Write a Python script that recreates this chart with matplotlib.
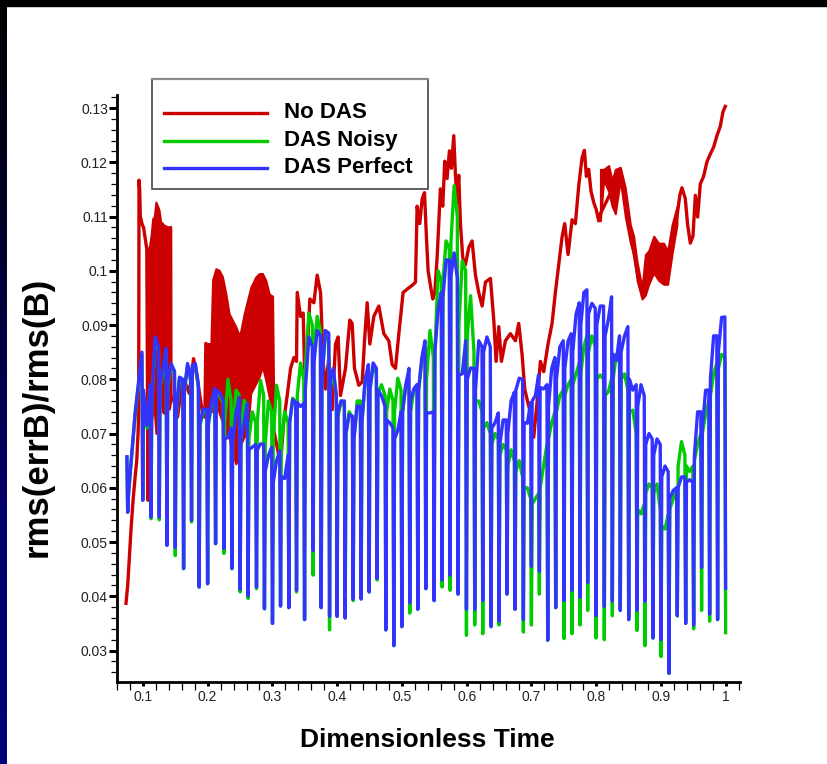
import numpy as np
import matplotlib
matplotlib.use('Agg')
import matplotlib.pyplot as plt
from matplotlib.ticker import MultipleLocator, FuncFormatter
from matplotlib.patches import Rectangle
from matplotlib.lines import Line2D
from matplotlib.colors import LinearSegmentedColormap

plt.rcParams['font.family'] = ['Liberation Sans', 'DejaVu Sans']

W, H = 828, 764

# ---------------- data ----------------
# times of the periodic dips shared by the two DAS runs
dip_t = [0.0765, 0.0997, 0.1125, 0.1253, 0.1371, 0.1500, 0.1628, 0.1751, 0.1869, 0.1999,
         0.2122, 0.2251, 0.2374, 0.2502, 0.2625, 0.2754, 0.2877, 0.3001, 0.3125, 0.3254,
         0.3372, 0.3496, 0.3629, 0.3753, 0.3882, 0.3999, 0.4123, 0.4247, 0.4370, 0.4494,
         0.4617, 0.4751, 0.4874, 0.4998, 0.5121, 0.5245, 0.5368, 0.5497, 0.5620, 0.5744,
         0.5867, 0.5996, 0.6124, 0.6248, 0.6376, 0.6500, 0.6623, 0.6747, 0.6875, 0.6999,
         0.7122, 0.7251, 0.7374, 0.7503, 0.7626, 0.7750, 0.7868, 0.7997, 0.8125, 0.8249,
         0.8372, 0.8501, 0.8629, 0.8753, 0.8876, 0.9000, 0.9123, 0.9252, 0.9381, 0.9504,
         0.9627, 0.9751, 0.9874, 0.9998]

# DAS Perfect: value before each dip, dip bottom, value after dip, value mid-way to next dip
perfect_pre = [0.0657, 0.0850, 0.0790, 0.0860, 0.0857, 0.0815, 0.0800, 0.0800, 0.0790, 0.0745,
               0.0783, 0.0760, 0.0710, 0.0767, 0.0755, 0.0680, 0.0680, 0.0675, 0.0668, 0.0660,
               0.0757, 0.0755, 0.0860, 0.0880, 0.0885, 0.0770, 0.0760, 0.0732, 0.0750, 0.0827,
               0.0820, 0.0750, 0.0710, 0.0740, 0.0820, 0.0790, 0.0871, 0.0740, 0.0960, 0.1020,
               0.0986, 0.0871, 0.0820, 0.0860, 0.0860, 0.0738, 0.0725, 0.0776, 0.0800, 0.0757,
               0.0808, 0.0790, 0.0840, 0.0871, 0.0884, 0.0941, 0.0965, 0.0931, 0.0935, 0.0952,
               0.0880, 0.0897, 0.0790, 0.0770, 0.0690, 0.0680, 0.0630, 0.0600, 0.0620, 0.0610,
               0.0740, 0.0780, 0.0880, 0.0915]
perfect_lo = [0.0555, 0.0577, 0.0546, 0.0546, 0.0494, 0.0490, 0.0451, 0.0540, 0.0417, 0.0423,
              0.0497, 0.0488, 0.0451, 0.0413, 0.0401, 0.0417, 0.0377, 0.0350, 0.0382, 0.0379,
              0.0411, 0.0357, 0.0484, 0.0379, 0.0363, 0.0363, 0.0360, 0.0395, 0.0395, 0.0408,
              0.0433, 0.0338, 0.0309, 0.0344, 0.0388, 0.0376, 0.0414, 0.0392, 0.0430, 0.0439,
              0.0404, 0.0376, 0.0376, 0.0392, 0.0344, 0.0354, 0.0404, 0.0376, 0.0357, 0.0455,
              0.0446, 0.0319, 0.0379, 0.0392, 0.0411, 0.0398, 0.0425, 0.0364, 0.0381, 0.0391,
              0.0374, 0.0357, 0.0374, 0.0391, 0.0323, 0.0320, 0.0258, 0.0364, 0.0350, 0.0347,
              0.0453, 0.0367, 0.0357, 0.0415]
perfect_post = [0.0590, 0.0780, 0.0760, 0.0790, 0.0790, 0.0730, 0.0780, 0.0825, 0.0720, 0.0720,
                0.0780, 0.0690, 0.0680, 0.0690, 0.0670, 0.0670, 0.0630, 0.0610, 0.0620, 0.0720,
                0.0757, 0.0780, 0.0830, 0.0800, 0.0800, 0.0740, 0.0700, 0.0690, 0.0720, 0.0780,
                0.0780, 0.0725, 0.0690, 0.0740, 0.0760, 0.0780, 0.0738, 0.0850, 0.0950, 0.0990,
                0.0808, 0.0800, 0.0780, 0.0850, 0.0710, 0.0680, 0.0700, 0.0780, 0.0720, 0.0760,
                0.0785, 0.0750, 0.0800, 0.0820, 0.0850, 0.0900, 0.0920, 0.0900, 0.0880, 0.0846,
                0.0850, 0.0800, 0.0750, 0.0680, 0.0660, 0.0620, 0.0580, 0.0600, 0.0610, 0.0660,
                0.0710, 0.0800, 0.0850]
perfect_mid = [0.0740, 0.0715, 0.0878, 0.0820, 0.0829, 0.0804, 0.0829, 0.0829, 0.0745, 0.0760,
               0.0775, 0.0693, 0.0740, 0.0720, 0.0675, 0.0681, 0.0660, 0.0650, 0.0617, 0.0763,
               0.0750, 0.0878, 0.0890, 0.0890, 0.0820, 0.0760, 0.0735, 0.0751, 0.0800, 0.0830,
               0.0770, 0.0720, 0.0706, 0.0790, 0.0782, 0.0840, 0.0738, 0.0930, 0.1020, 0.1033,
               0.0810, 0.0821, 0.0871, 0.0878, 0.0720, 0.0725, 0.0760, 0.0802, 0.0719, 0.0770,
               0.0782, 0.0820, 0.0860, 0.0870, 0.0920, 0.0960, 0.0940, 0.0935, 0.0910, 0.0835,
               0.0880, 0.0780, 0.0790, 0.0700, 0.0690, 0.0640, 0.0595, 0.0620, 0.0615, 0.0740,
               0.0780, 0.0880, 0.0914]

# DAS Noisy
noisy_pre = [0.0657, 0.0845, 0.0785, 0.0855, 0.0850, 0.0810, 0.0795, 0.0795, 0.0785, 0.0740,
             0.0778, 0.0755, 0.0760, 0.0770, 0.0750, 0.0720, 0.0770, 0.0740, 0.0760, 0.0720,
             0.0757, 0.0800, 0.0900, 0.0890, 0.0870, 0.0770, 0.0750, 0.0730, 0.0760, 0.0820,
             0.0810, 0.0770, 0.0760, 0.0780, 0.0780, 0.0790, 0.0860, 0.0840, 0.0980, 0.1040,
             0.1100, 0.1000, 0.0850, 0.0740, 0.0700, 0.0690, 0.0670, 0.0650, 0.0620, 0.0580,
             0.0590, 0.0680, 0.0740, 0.0780, 0.0800, 0.0830, 0.0880, 0.0860, 0.0800, 0.0800,
             0.0830, 0.0780, 0.0700, 0.0570, 0.0600, 0.0560, 0.0550, 0.0600, 0.0660, 0.0640,
             0.0700, 0.0760, 0.0830, 0.0840]
noisy_lo = [0.0555, 0.0577, 0.0543, 0.0541, 0.0494, 0.0475, 0.0451, 0.0537, 0.0417, 0.0423,
            0.0497, 0.0479, 0.0451, 0.0408, 0.0396, 0.0414, 0.0377, 0.0350, 0.0382, 0.0379,
            0.0408, 0.0357, 0.0439, 0.0379, 0.0338, 0.0363, 0.0360, 0.0392, 0.0395, 0.0408,
            0.0430, 0.0338, 0.0309, 0.0344, 0.0369, 0.0376, 0.0414, 0.0392, 0.0417, 0.0411,
            0.0404, 0.0328, 0.0347, 0.0331, 0.0344, 0.0347, 0.0404, 0.0376, 0.0334, 0.0347,
            0.0404, 0.0319, 0.0379, 0.0322, 0.0331, 0.0347, 0.0374, 0.0323, 0.0320, 0.0364,
            0.0374, 0.0357, 0.0337, 0.0309, 0.0323, 0.0289, 0.0258, 0.0364, 0.0350, 0.0340,
            0.0374, 0.0354, 0.0357, 0.0333]
noisy_post = [0.0585, 0.0775, 0.0755, 0.0785, 0.0785, 0.0725, 0.0775, 0.0820, 0.0715, 0.0715,
              0.0775, 0.0720, 0.0700, 0.0700, 0.0690, 0.0720, 0.0680, 0.0690, 0.0680, 0.0720,
              0.0770, 0.0820, 0.0850, 0.0800, 0.0790, 0.0730, 0.0700, 0.0690, 0.0720, 0.0780,
              0.0775, 0.0740, 0.0740, 0.0740, 0.0740, 0.0780, 0.0800, 0.0850, 0.0980, 0.1050,
              0.0900, 0.0880, 0.0760, 0.0710, 0.0680, 0.0660, 0.0640, 0.0630, 0.0600, 0.0570,
              0.0600, 0.0690, 0.0740, 0.0770, 0.0790, 0.0810, 0.0850, 0.0800, 0.0770, 0.0800,
              0.0800, 0.0740, 0.0560, 0.0590, 0.0590, 0.0530, 0.0560, 0.0640, 0.0640, 0.0650,
              0.0700, 0.0770, 0.0820]
noisy_mid = [0.0735, 0.0710, 0.0870, 0.0815, 0.0825, 0.0800, 0.0825, 0.0825, 0.0740, 0.0755,
             0.0770, 0.0800, 0.0780, 0.0761, 0.0740, 0.0798, 0.0760, 0.0789, 0.0740, 0.0765,
             0.0830, 0.0922, 0.0916, 0.0880, 0.0800, 0.0760, 0.0740, 0.0760, 0.0800, 0.0825,
             0.0790, 0.0782, 0.0802, 0.0790, 0.0780, 0.0833, 0.0890, 0.1000, 0.1055, 0.1157,
             0.1018, 0.0954, 0.0760, 0.0720, 0.0700, 0.0680, 0.0670, 0.0650, 0.0600, 0.0580,
             0.0640, 0.0720, 0.0770, 0.0790, 0.0810, 0.0860, 0.0880, 0.0808, 0.0777, 0.0846,
             0.0810, 0.0743, 0.0552, 0.0607, 0.0607, 0.0524, 0.0580, 0.0685, 0.0630, 0.0680,
             0.0736, 0.0810, 0.0846]

# No DAS: main trace
nodas_t = [0.0739, 0.0765, 0.0790, 0.0820, 0.0850, 0.0880, 0.0905, 0.0925, 0.0935, 0.0940,
           0.0950, 0.0960, 0.0990, 0.1010, 0.1035, 0.1060, 0.1080, 0.1090, 0.1250, 0.1425,
           0.1432, 0.1480, 0.1535, 0.1600, 0.1638, 0.1715, 0.1782, 0.1844, 0.1921, 0.1957,
           0.1972, 0.2500, 0.3000, 0.3022, 0.3074, 0.3125, 0.3177, 0.3228, 0.3280, 0.3331,
           0.3372, 0.3383, 0.3434, 0.3475, 0.3496, 0.3537, 0.3578, 0.3640, 0.3691, 0.3743,
           0.3784, 0.3820, 0.3871, 0.3923, 0.3974, 0.4015, 0.4051, 0.4128, 0.4195, 0.4231,
           0.4267, 0.4334, 0.4386, 0.4422, 0.4463, 0.4504, 0.4566, 0.4643, 0.4720, 0.4797,
           0.4849, 0.4900, 0.4952, 0.5018, 0.5090, 0.5157, 0.5209, 0.5234, 0.5275, 0.5311,
           0.5348, 0.5378, 0.5404, 0.5440, 0.5476, 0.5507, 0.5543, 0.5569, 0.5594, 0.5630,
           0.5661, 0.5697, 0.5733, 0.5764, 0.5800, 0.5826, 0.5852, 0.5877, 0.5903, 0.5939,
           0.5980, 0.6032, 0.6083, 0.6135, 0.6186, 0.6238, 0.6289, 0.6366, 0.6418, 0.6454,
           0.6495, 0.6536, 0.6598, 0.6675, 0.6752, 0.6803, 0.6855, 0.6896, 0.6932, 0.6984,
           0.7035, 0.7086, 0.7138, 0.7189, 0.7256, 0.7318, 0.7369, 0.7420, 0.7472, 0.7513,
           0.7565, 0.7627, 0.7678, 0.7730, 0.7781, 0.7817, 0.7848, 0.7884, 0.7920, 0.7961,
           0.8002, 0.8038, 0.8064, 0.8372, 0.8630, 0.8707, 0.8887, 0.9103, 0.9247, 0.9292,
           0.9324, 0.9375, 0.9411, 0.9453, 0.9494, 0.9530, 0.9566, 0.9607, 0.9658, 0.9710,
           0.9761, 0.9813, 0.9864, 0.9915, 0.9957, 0.9993]
nodas_v = [0.0387, 0.0420, 0.0470, 0.0530, 0.0580, 0.0620, 0.0650, 0.0700, 0.0740, 0.1167,
           0.1150, 0.1100, 0.1085, 0.1080, 0.1060, 0.1040, 0.0577, 0.1040, 0.0930, 0.1080,
           0.0770, 0.0760, 0.0730, 0.0790, 0.0798, 0.0774, 0.0838, 0.0798, 0.0737, 0.0730,
           0.0866, 0.0800, 0.0952, 0.0706, 0.0674, 0.0643, 0.0725, 0.0770, 0.0820, 0.0840,
           0.0833, 0.0960, 0.0916, 0.0922, 0.0820, 0.0846, 0.0948, 0.0941, 0.0992, 0.0960,
           0.0833, 0.0782, 0.0840, 0.0744, 0.0865, 0.0878, 0.0770, 0.0820, 0.0909, 0.0903,
           0.0820, 0.0789, 0.0795, 0.0871, 0.0941, 0.0865, 0.0916, 0.0935, 0.0884, 0.0871,
           0.0827, 0.0820, 0.0884, 0.0960, 0.0967, 0.0973, 0.0979, 0.1119, 0.1087, 0.1132,
           0.1144, 0.1062, 0.1000, 0.0973, 0.0948, 0.0960, 0.1024, 0.1087, 0.1151, 0.1119,
           0.1202, 0.1170, 0.1221, 0.1189, 0.1249, 0.1176, 0.1125, 0.1176, 0.1087, 0.1024,
           0.1011, 0.1043, 0.1055, 0.0992, 0.0960, 0.0935, 0.0979, 0.0986, 0.0909, 0.0833,
           0.0897, 0.0833, 0.0871, 0.0884, 0.0871, 0.0903, 0.0846, 0.0782, 0.0763, 0.0738,
           0.0693, 0.0757, 0.0833, 0.0814, 0.0865, 0.0903, 0.0960, 0.1011, 0.1062, 0.1087,
           0.1030, 0.1094, 0.1087, 0.1157, 0.1208, 0.1222, 0.1174, 0.1187, 0.1146, 0.1126,
           0.1112, 0.1092, 0.1105, 0.1180, 0.1000, 0.0958, 0.1030, 0.1005, 0.1100, 0.1140,
           0.1153, 0.1133, 0.1085, 0.1051, 0.1064, 0.1139, 0.1099, 0.1160, 0.1174, 0.1201,
           0.1215, 0.1228, 0.1249, 0.1266, 0.1293, 0.1303]

# No DAS: stretches where fast oscillation fills a band (upper / lower envelope)
band1_t = [0.1073, 0.1100, 0.1125, 0.1150, 0.1175, 0.1200, 0.1225, 0.1250, 0.1275, 0.1300,
           0.1325, 0.1350, 0.1380, 0.1410, 0.1430]
band1_top = [0.1038, 0.1045, 0.1065, 0.1096, 0.1100, 0.1127, 0.1120, 0.1112, 0.1090, 0.1088,
             0.1084, 0.1083, 0.1081, 0.1081, 0.1080]
band1_bot = [0.0660, 0.0700, 0.0720, 0.0737, 0.0740, 0.0700, 0.0720, 0.0740, 0.0767, 0.0740,
             0.0737, 0.0750, 0.0760, 0.0745, 0.0760]
band2_t = [0.1972, 0.2049, 0.2075, 0.2126, 0.2178, 0.2229, 0.2281, 0.2332, 0.2383, 0.2435,
           0.2486, 0.2512, 0.2563, 0.2615, 0.2666, 0.2743, 0.2795, 0.2846, 0.2897, 0.2949, 0.3000]
band2_top = [0.0866, 0.0866, 0.0983, 0.1004, 0.1001, 0.0989, 0.0958, 0.0921, 0.0909, 0.0897,
             0.0881, 0.0890, 0.0921, 0.0946, 0.0970, 0.0989, 0.0995, 0.0995, 0.0983, 0.0958, 0.0952]
band2_bot = [0.0737, 0.0750, 0.0740, 0.0760, 0.0737, 0.0720, 0.0700, 0.0690, 0.0663, 0.0644,
             0.0657, 0.0680, 0.0694, 0.0700, 0.0774, 0.0792, 0.0804, 0.0823, 0.0798, 0.0767, 0.0737]
band3_t = [0.8064, 0.8115, 0.8192, 0.8244, 0.8295, 0.8372, 0.8449, 0.8527, 0.8578, 0.8630,
           0.8707, 0.8758, 0.8810, 0.8887, 0.8964, 0.9041, 0.9103, 0.9170, 0.9247]
band3_top = [0.1187, 0.1187, 0.1194, 0.1167, 0.1187, 0.1191, 0.1153, 0.1085, 0.1064, 0.1017,
             0.0969, 0.1030, 0.1037, 0.1064, 0.1051, 0.1051, 0.1037, 0.1085, 0.1119]
band3_bot = [0.1092, 0.1167, 0.1146, 0.1119, 0.1105, 0.1167, 0.1099, 0.1051, 0.1030, 0.0982,
             0.0948, 0.0955, 0.0975, 0.0996, 0.0982, 0.0975, 0.0975, 0.1030, 0.1085]

labels = ['No DAS', 'DAS Noisy', 'DAS Perfect']
colors = ['#cc0000', '#00cc00', '#3333ff']


def dip_line(t, pre, lo, post, mid, w=0.0012):
    # vertices of a dipping trace: before dip, bottom, after dip, half way to next
    xs, ys = [], []
    for i in range(len(t)):
        xs += [t[i] - w, t[i]]
        ys += [pre[i], lo[i]]
        if i < len(post):
            xs += [t[i] + w, (t[i] + t[i + 1]) / 2]
            ys += [post[i], mid[i]]
    return xs, ys


fig = plt.figure(figsize=(W / 100, H / 100), dpi=100)
fig.patch.set_facecolor('white')

# slide frame: black top edge and dark blue strip on the left
fig.add_artist(Rectangle((0, 1 - 6 / H), 1, 6 / H, transform=fig.transFigure,
                         color='black', zorder=0))
strip = fig.add_axes([0, 0, 7 / W, 1])
strip.imshow(np.linspace(0, 1, 200).reshape(-1, 1), aspect='auto',
             cmap=LinearSegmentedColormap.from_list('slide', ['#000000', '#000030', '#00006a', '#00007a']))
strip.axis('off')

ax = fig.add_axes([117 / W, 1 - 682 / H, 623 / W, 587 / H])

lw = 2.4
for bt, btop, bbot in [(band1_t, band1_top, band1_bot),
                       (band2_t, band2_top, band2_bot),
                       (band3_t, band3_top, band3_bot)]:
    ax.fill_between(bt, bbot, btop, color=colors[0], lw=1.4)
ax.plot(nodas_t, nodas_v, color=colors[0], lw=lw)

gx, gy = dip_line(dip_t, noisy_pre, noisy_lo, noisy_post, noisy_mid)
ax.plot(gx, gy, color=colors[1], lw=lw)
bx, by = dip_line(dip_t, perfect_pre, perfect_lo, perfect_post, perfect_mid)
ax.plot(bx, by, color=colors[2], lw=lw)

ax.set_xlim(0.06, 1.022)
ax.set_ylim(0.0242, 0.1324)
for s in ['top', 'right']:
    ax.spines[s].set_visible(False)
for s in ['left', 'bottom']:
    ax.spines[s].set_linewidth(2.0)

fmt = FuncFormatter(lambda v, p: ('%.2f' % v).rstrip('0').rstrip('.'))
ax.xaxis.set_major_locator(MultipleLocator(0.1))
ax.xaxis.set_minor_locator(MultipleLocator(0.02))
ax.yaxis.set_major_locator(MultipleLocator(0.01))
ax.yaxis.set_minor_locator(MultipleLocator(0.002))
ax.xaxis.set_major_formatter(fmt)
ax.yaxis.set_major_formatter(fmt)
ax.tick_params(axis='y', which='major', direction='out', length=5.5, width=2.2,
               labelsize=10, pad=1, labelcolor='#222222')
ax.tick_params(axis='y', which='minor', direction='out', length=4.5, width=0.9)
ax.tick_params(axis='x', which='major', direction='out', length=3, width=2.2,
               labelsize=10, pad=3, labelcolor='#222222')
ax.tick_params(axis='x', which='minor', direction='out', length=6, width=0.9)

fig.text(427 / W, 1 - 740 / H, 'Dimensionless Time', ha='center', va='center',
         fontsize=19, fontweight='bold')
fig.text(37 / W, 1 - 417 / H, 'rms(errB)/rms(B)', rotation=90, ha='center', va='center',
         fontsize=25, fontweight='bold')

# legend box drawn like the original (pixel positions)
fig.add_artist(Rectangle((152 / W, 1 - 189 / H), 276 / W, 110 / H, transform=fig.transFigure,
                         facecolor='white', edgecolor='#444444', lw=1.2, zorder=5))
fig.add_artist(Line2D([152 / W, 428 / W], [1 - 79 / H, 1 - 79 / H], transform=fig.transFigure,
                      color='#888888', lw=1.6, zorder=6))
for k, yy in enumerate([112.7, 140.7, 167.7]):
    fig.add_artist(Line2D([164 / W, 267 / W], [1 - yy / H, 1 - yy / H], transform=fig.transFigure,
                          color=colors[k], lw=lw, zorder=6))
    fig.text(284 / W, 1 - yy / H, labels[k], ha='left', va='center', fontsize=16,
             fontweight='bold', zorder=6)

fig.savefig('out.png', dpi=100)
